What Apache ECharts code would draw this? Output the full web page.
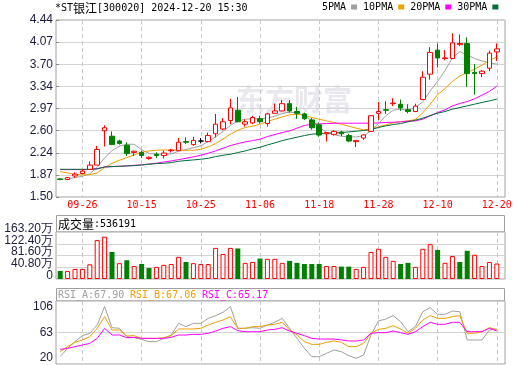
<!DOCTYPE html>
<html><head><meta charset="utf-8">
<script src="https://cdn.jsdelivr.net/npm/echarts@6/dist/echarts.min.js"></script>
<style>html,body{margin:0;padding:0;background:#fff}#c{width:520px;height:365px}</style>
</head><body><div id="c"></div>
<script>
// ---------------- data ----------------
const titleText = '*ST银江[300020] 2024-12-20 15:30';
const watermark = '东方财富';
const dates = ['09-23','09-24','09-25','09-26','09-27','09-30','10-08','10-09','10-10','10-11','10-14','10-15','10-16','10-17','10-18','10-21','10-22','10-23','10-24','10-25','10-28','10-29','10-30','10-31','11-01','11-04','11-05','11-06','11-07','11-08','11-11','11-12','11-13','11-14','11-15','11-18','11-19','11-20','11-21','11-22','11-25','11-26','11-27','11-28','11-29','12-02','12-03','12-04','12-05','12-06','12-09','12-10','12-11','12-12','12-13','12-16','12-17','12-18','12-19','12-20'];
// [open, close, low, high]
const candles = [
[1.80,1.79,1.78,1.81],[1.79,1.82,1.78,1.83],[1.85,1.88,1.82,1.91],[1.89,1.93,1.88,1.96],[1.96,2.03,1.96,2.09],
[2.03,2.29,2.03,2.35],[2.60,2.65,2.34,2.69],[2.51,2.37,2.37,2.59],[2.43,2.39,2.37,2.45],[2.36,2.22,2.18,2.41],
[2.24,2.26,2.18,2.27],[2.24,2.19,2.15,2.27],[2.14,2.16,2.12,2.17],[2.21,2.19,2.15,2.24],[2.19,2.23,2.14,2.27],
[2.27,2.28,2.24,2.30],[2.27,2.41,2.27,2.48],[2.42,2.41,2.38,2.49],[2.37,2.44,2.35,2.50],[2.43,2.43,2.39,2.48],
[2.42,2.52,2.41,2.57],[2.55,2.71,2.49,2.88],[2.63,2.75,2.61,2.81],[2.77,2.98,2.71,3.13],[2.94,2.75,2.74,3.16],
[2.71,2.75,2.67,2.79],[2.73,2.82,2.71,2.85],[2.80,2.75,2.72,2.85],[2.72,2.88,2.67,2.90],[2.89,2.93,2.89,3.05],
[2.93,3.05,2.92,3.11],[3.05,2.93,2.90,3.11],[2.92,2.89,2.80,3.00],[2.88,2.80,2.78,2.90],[2.78,2.65,2.62,2.81],
[2.70,2.53,2.50,2.74],[2.55,2.57,2.42,2.57],[2.54,2.59,2.52,2.61],[2.58,2.55,2.51,2.60],[2.52,2.43,2.41,2.55],
[2.42,2.44,2.33,2.44],[2.48,2.53,2.45,2.54],[2.59,2.85,2.58,2.86],[2.89,2.92,2.78,3.08],[2.95,2.94,2.88,3.09],
[3.05,3.06,3.01,3.14],[3.04,2.98,2.93,3.12],[2.95,2.92,2.89,3.04],[2.92,3.01,2.91,3.05],[3.12,3.49,3.11,3.59],
[3.54,3.90,3.45,3.99],[3.94,3.81,3.65,4.05],[3.80,3.81,3.77,3.94],[3.80,4.06,3.79,4.22],[4.03,4.05,4.01,4.20],
[4.05,3.55,3.33,4.15],[3.57,3.55,3.20,3.71],[3.55,3.59,3.49,3.61],[3.64,3.89,3.59,3.93],[3.91,3.96,3.76,4.05]
];
const ma5 = [1.794,1.805,1.822,1.845,1.885,1.995,2.150,2.270,2.345,2.376,2.376,2.285,2.225,2.210,2.210,2.215,2.260,2.290,2.320,2.349,2.420,2.500,2.590,2.690,2.760,2.792,2.800,2.800,2.810,2.842,2.887,2.910,2.900,2.850,2.775,2.660,2.575,2.535,2.510,2.498,2.498,2.515,2.600,2.720,2.850,2.940,2.960,2.940,2.990,3.080,3.260,3.420,3.600,3.810,3.915,3.860,3.800,3.760,3.730,3.707];
const ma10 = [1.921,1.899,1.877,1.866,1.872,1.899,1.988,2.060,2.110,2.154,2.199,2.243,2.265,2.276,2.282,2.276,2.276,2.276,2.276,2.293,2.332,2.387,2.460,2.543,2.609,2.654,2.676,2.709,2.753,2.792,2.831,2.864,2.875,2.859,2.820,2.792,2.765,2.737,2.709,2.676,2.643,2.615,2.626,2.665,2.698,2.731,2.753,2.765,2.787,2.898,3.042,3.200,3.300,3.420,3.510,3.565,3.625,3.690,3.765,3.829];
const ma20 = [1.955,1.955,1.955,1.955,1.958,1.971,1.999,2.005,2.010,2.016,2.027,2.032,2.049,2.060,2.082,2.099,2.121,2.143,2.166,2.193,2.227,2.265,2.310,2.354,2.387,2.415,2.437,2.460,2.504,2.537,2.570,2.598,2.643,2.687,2.709,2.715,2.720,2.726,2.726,2.726,2.726,2.726,2.726,2.731,2.737,2.742,2.748,2.759,2.765,2.792,2.848,2.903,2.948,3.014,3.053,3.086,3.131,3.192,3.253,3.341];
const ma30 = [1.960,1.960,1.960,1.960,1.960,1.966,1.999,2.005,2.010,2.016,2.021,2.032,2.044,2.055,2.060,2.071,2.093,2.105,2.116,2.127,2.143,2.171,2.193,2.210,2.238,2.265,2.299,2.326,2.365,2.398,2.437,2.465,2.493,2.520,2.543,2.554,2.559,2.565,2.570,2.581,2.593,2.604,2.620,2.654,2.681,2.704,2.720,2.748,2.776,2.809,2.853,2.892,2.920,2.959,2.986,3.014,3.042,3.070,3.097,3.125];
const volumes = [280000,280000,350000,350000,510000,1350000,1470000,940000,550000,650000,450000,520000,380000,420000,490000,520000,770000,590000,550000,520000,520000,1080000,870000,1080000,1060000,560000,590000,710000,700000,700000,560000,630000,560000,520000,520000,520000,450000,450000,430000,430000,350000,420000,940000,1050000,770000,630000,520000,560000,420000,1050000,1210000,1010000,560000,800000,590000,980000,840000,450000,590000,536191];
const volUp = [0,1,1,1,1,1,1,0,1,0,1,0,0,1,1,1,1,0,1,1,1,1,1,1,0,1,1,0,1,1,1,0,0,0,0,0,1,1,0,0,1,1,1,1,1,1,0,0,1,1,1,0,1,1,0,0,1,1,1,1];
const rsiA = [30.0,41.4,50.5,58.7,61.9,73.2,98.3,69.6,68.7,57.3,55.9,53.7,50.5,50.5,55.0,59.6,75.5,71.0,75.5,75.5,82.3,86.0,90.5,98.3,68.7,68.7,69.6,68.7,73.2,76.9,82.3,68.7,55.0,41.4,30.0,30.0,34.6,39.1,36.8,31.4,27.7,32.3,59.6,78.7,81.4,86.0,77.8,64.1,71.0,91.4,96.9,87.8,87.8,92.3,91.4,52.8,52.8,52.8,66.4,67.90];
const rsiB = [36.8,43.7,49.6,52.8,57.3,68.7,84.6,66.4,66.4,58.2,58.7,55.0,55.0,55.0,55.9,58.7,67.8,67.8,67.8,68.7,73.2,76.9,80.1,84.6,68.7,68.7,71.0,71.0,73.2,74.2,76.9,66.4,59.6,50.5,46.8,46.8,49.6,51.4,49.6,43.7,43.7,48.2,61.9,67.3,68.7,72.3,67.8,61.9,68.7,80.1,86.0,82.3,82.3,84.6,86.0,61.9,61.9,64.1,69.6,67.06];
const rsiC = [40.0,41.4,43.7,45.9,48.2,55.0,68.7,59.6,59.6,55.9,56.4,55.0,55.0,55.0,55.0,56.4,59.6,59.6,60.5,60.5,61.9,65.0,68.7,71.0,65.5,64.1,64.1,64.1,66.4,67.3,69.6,65.0,61.9,58.7,55.0,54.1,54.1,54.1,52.8,51.4,51.4,52.8,61.9,62.8,62.8,65.0,62.8,60.5,64.1,71.0,76.9,74.2,74.2,76.9,76.9,64.1,64.1,64.1,68.7,65.17];
const priceTicks = ['1.50','1.87','2.24','2.60','2.97','3.34','3.70','4.07','4.44'];
const volTicks = ['0','40.80万','81.60万','122.40万','163.20万'];
const rsiTicks = ['20','63','106'];
const maNames = ['5PMA','10PMA','20PMA','30PMA'];
const volLabel = '成交量';
const rsiNames = ['RSI_A','RSI_B','RSI_C'];

// ---------------- styles ----------------
const mono = "'DejaVu Sans Mono', 'Liberation Mono', monospace";
const cjk = "'Noto Sans CJK SC', sans-serif";
const sans = "'Liberation Sans', Arial, sans-serif";
const frameColor = '#a0a0a0';
const gridLine = '#d4d4d4';
const labelColor = '#1c1c3c';
const maColors = ['#a0a0a0', '#f0a000', '#ff00ff', '#006f3a'];
const rsiColors = ['#a0a0a0', '#f0a000', '#ff00ff'];
const upColor = '#ff0000', downColor = '#008000';
const isTick = (i) => i >= 3 && (i - 3) % 8 === 0;

function mixRich(str) {
  return str.replace(/([\u4e00-\u9fff]+)|([^\u4e00-\u9fff]+)/g, (m, c, o) => c ? '{c|' + c + '}' : '{m|' + o + '}');
}

const panels = [
  {top: 20, height: 177},
  {top: 232, height: 47},
  {top: 301, height: 63}
];
const frameLeft = 56, frameWidth = 449, dataLeft = 56.5, dataWidth = 444;

const grids = [], xAxes = [], yAxes = [];
panels.forEach((p, k) => {
  grids.push({left: frameLeft, top: p.top, width: frameWidth, height: p.height, show: true, borderColor: frameColor, borderWidth: 1, backgroundColor: 'transparent'});
  grids.push({left: dataLeft, top: p.top, width: dataWidth, height: p.height});
  xAxes.push({type: 'value', gridIndex: 2 * k, min: 0, max: 1, show: false});
  xAxes.push({
    type: 'category', gridIndex: 2 * k + 1, data: dates, boundaryGap: true,
    axisLine: {show: false}, axisTick: {show: false},
    axisLabel: {show: k === 0, interval: (i) => isTick(i), color: '#ff0000', fontFamily: mono, fontSize: 10, margin: 3},
    splitLine: {show: true, interval: (i) => isTick(i), alignWithLabel: true, lineStyle: {color: '#c8c8c8', type: [4, 3], width: 1}}
  });
});
const wrap = (tag, s) => '{' + tag + '|' + s + '}';
const labRich = {
  lo: {padding: [0, 0, 12, 0], fontFamily: sans, fontSize: 12, color: labelColor},
  hi: {padding: [12, 0, 0, 0], fontFamily: sans, fontSize: 12, color: labelColor},
  md: {fontFamily: sans, fontSize: 12, color: labelColor}
};
const yCfg = [
  {min: 1.5, max: 4.44, interval: 0.3675, label: {formatter: (v, i) => priceTicks[i]}},
  {min: 0, max: 1632000, interval: 408000, label: {formatter: (v, i) => i % 2 === 0 ? volTicks[i] : '', verticalAlign: 'bottom', lineHeight: 7}},
  {min: 20, max: 106, interval: 43, label: {formatter: (v, i) => wrap(i === 0 ? 'lo' : (i === rsiTicks.length - 1 ? 'hi' : 'md'), rsiTicks[i]), rich: labRich}}
];
const baseLabel = {color: labelColor, fontFamily: sans, fontSize: 12, margin: 3, showMinLabel: true, showMaxLabel: true, hideOverlap: false};
yCfg.forEach((c, k) => {
  yAxes.push({
    type: 'value', gridIndex: 2 * k, position: 'left', min: c.min, max: c.max, interval: c.interval,
    axisLine: {show: false},
    axisTick: {show: k === 0, inside: true, length: 3, lineStyle: {color: '#888'}},
    axisLabel: Object.assign({}, baseLabel, c.label),
    splitLine: {show: true, lineStyle: {color: gridLine, width: 1}}
  });
  yAxes.push({type: 'value', gridIndex: 2 * k + 1, min: c.min, max: c.max, show: false, splitLine: {show: false}});
});
// second label axis for the odd volume ticks (avoids label-overlap hiding)
yAxes.push({
  type: 'value', gridIndex: 2, position: 'left', offset: 0, min: 0, max: 1632000, interval: 408000,
  axisLine: {show: false}, axisTick: {show: false}, splitLine: {show: false},
  axisLabel: Object.assign({}, baseLabel, {formatter: (v, i) => i % 2 === 1 ? volTicks[i] : '', verticalAlign: 'bottom', lineHeight: 7})
});

const series = [];
series.push({
  type: 'candlestick', xAxisIndex: 1, yAxisIndex: 1, data: candles, barWidth: 5, silent: true, z: 5,
  itemStyle: {color: '#ffffff', color0: downColor, borderColor: upColor, borderColor0: downColor, borderColorDoji: '#000000', borderWidth: 1}
});
[ma5, ma10, ma20, ma30].forEach((arr, k) => {
  series.push({
    name: maNames[k], type: 'line', xAxisIndex: 1, yAxisIndex: 1, data: arr, color: maColors[k],
    showSymbol: false, symbol: 'none', silent: true, z: 4,
    lineStyle: {color: maColors[k], width: 1}
  });
});
series.push({
  type: 'bar', xAxisIndex: 3, yAxisIndex: 3, barWidth: 5, silent: true,
  data: volumes.map((v, i) => ({
    value: v,
    itemStyle: volUp[i] ? {color: '#ffffff', borderColor: upColor, borderWidth: 1} : {color: downColor, borderColor: downColor, borderWidth: 0}
  }))
});
[rsiA, rsiB, rsiC].forEach((arr, k) => {
  series.push({
    name: rsiNames[k], type: 'line', xAxisIndex: 5, yAxisIndex: 5, data: arr, color: rsiColors[k],
    showSymbol: false, symbol: 'none', silent: true,
    lineStyle: {color: rsiColors[k], width: 1}
  });
});

const richStyles = {
  m: {fontFamily: mono, fontSize: 10, fill: '#000'},
  c: {fontFamily: cjk, fontSize: 12, fill: '#000'}
};
const graphic = [
  {type: 'text', x: 236, y: 100, z: 0, silent: true,
    style: {text: watermark, fontFamily: cjk, fontSize: 29, fontWeight: 'bold', fill: '#e8e8ee', verticalAlign: 'middle'}},
  {type: 'text', x: 55, y: 8, silent: true,
    style: {text: mixRich(titleText), verticalAlign: 'middle', rich: richStyles}},
  {type: 'rect', silent: true, shape: {x: 56.5, y: 215.5, width: 448, height: 16.5}, style: {fill: 'none', stroke: frameColor, lineWidth: 1}},
  {type: 'text', x: 58, y: 224, silent: true,
    style: {text: mixRich(volLabel + ':' + volumes[volumes.length - 1]), verticalAlign: 'middle', rich: richStyles}},
  {type: 'rect', silent: true, shape: {x: 56.5, y: 288.5, width: 448, height: 12.5}, style: {fill: 'none', stroke: frameColor, lineWidth: 1}}
];
const rsiLast = [rsiA, rsiB, rsiC].map(a => a[a.length - 1]);
rsiNames.forEach((n, k) => {
  graphic.push({type: 'text', x: 58 + 72 * k, y: 295, silent: true,
    style: {text: n + ':' + rsiLast[k].toFixed(2), fontFamily: mono, fontSize: 10, fill: rsiColors[k], verticalAlign: 'middle'}});
});

const chart = echarts.init(document.getElementById('c'));
chart.setOption({
  animation: false,
  backgroundColor: '#ffffff',
  grid: grids, xAxis: xAxes, yAxis: yAxes, series: series,
  legend: {
    data: maNames, left: 322, top: 2, padding: 0, icon: 'rect', itemWidth: 6, itemHeight: 5, itemGap: 6, align: 'right',
    selectedMode: false, textStyle: {fontFamily: mono, fontSize: 10, color: '#000'}
  },
  graphic: graphic
});
</script>
</body></html>
